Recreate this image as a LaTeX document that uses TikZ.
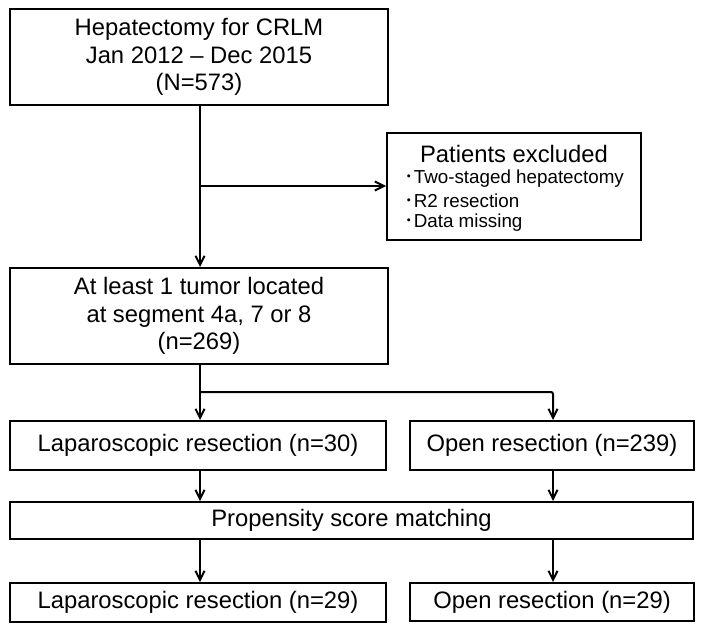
\documentclass[tikz,border=0pt]{standalone}
\usepackage{fontspec}
\setmainfont{Liberation Sans}
\newfontfamily\cjkjp{Noto Sans CJK JP}
\usetikzlibrary{arrows.meta}
\newcommand{\bdot}{{\cjkjp ･}}
\begin{document}
\begin{tikzpicture}[x=0.5pt,y=-0.5pt,
  box/.style={draw=black,line width=1pt,inner sep=0pt,align=center,
    font=\fontsize{11.9pt}{13.8pt}\selectfont},
  arr/.style={line width=1pt,-{Straight Barb[length=4.5pt,width=4.5pt,line width=1pt]}},
  small/.style={inner sep=0pt,font=\fontsize{9.4pt}{11pt}\selectfont}]
\useasboundingbox (0,0) rectangle (704,631);
\node[box,minimum width=189pt,minimum height=48pt] (top) at (199,57)
  {Hepatectomy for CRLM\\Jan 2012 -- Dec 2015\\(N=573)};
\node[box,minimum width=127pt,minimum height=53.5pt] (excl) at (514,186.5) {};
\node[inner sep=0pt,font=\fontsize{11.9pt}{13.8pt}\selectfont] (exclt) at (514,154) {Patients excluded};
\node[small,anchor=west] (ex1) at (404,179) {\bdot Two-staged hepatectomy};
\node[small,anchor=west] (ex2) at (404,201) {\bdot R2 resection};
\node[small,anchor=west] (ex3) at (404,223) {\bdot Data missing};
\node[box,minimum width=189pt,minimum height=48pt] (mid) at (199,316)
  {At least 1 tumor located\\at segment 4a, 7 or 8\\(n=269)};
\node[box,minimum width=188pt,minimum height=24.5pt] (lap1) at (198,445.5) {Laparoscopic resection (n=30)};
\node[box,minimum width=142pt,minimum height=24.5pt] (open1) at (552,445.5) {Open resection (n=239)};
\node[box,minimum width=341.5pt,minimum height=18.5pt] (psm) at (351.5,520.5) {Propensity score matching};
\node[box,minimum width=188pt,minimum height=19.5pt] (lap2) at (198,602.5) {Laparoscopic resection (n=29)};
\node[box,minimum width=142pt,minimum height=19pt] (open2) at (552,602) {Open resection (n=29)};
\coordinate (b1) at (200,186);
\coordinate (split) at (200,392);
\draw[arr] (top.south -| b1) -- (mid.north -| b1);
\draw[arr] (b1) -- (excl.west |- b1);
\draw[arr] (mid.south -| split) -- (lap1.north -| split);
\draw[arr,rounded corners=1pt] (split) -| ([xshift=0.5pt]open1.north);
\draw[arr] (lap1.south -| split) -- (psm.north -| split);
\draw[arr] ([xshift=0.5pt]open1.south) -- ([xshift=0.5pt]open1.north |- psm.north);
\draw[arr] (psm.south -| split) -- (lap2.north -| split);
\draw[arr] ([xshift=0.5pt]open1.south |- psm.south) -- ([xshift=0.5pt]open2.north);
\end{tikzpicture}
\end{document}
